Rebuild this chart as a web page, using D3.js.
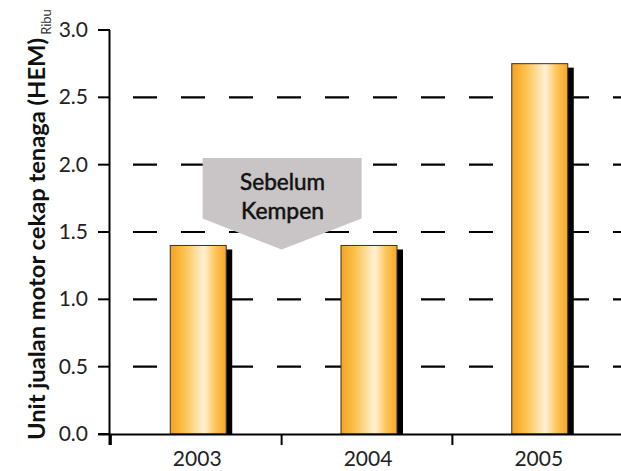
<!DOCTYPE html>
<html><head><meta charset="utf-8">
<script src="https://cdn.jsdelivr.net/npm/d3@7"></script>
<style>body{margin:0;background:#fff}svg{display:block}</style>
</head><body><svg id="c" width="621" height="471"></svg>
<script>
const categories = ["2003", "2004", "2005"];
const values = [1.4, 1.4, 2.75];
const yTicks = [0, 0.5, 1.0, 1.5, 2.0, 2.5, 3.0];
const gridTicks = [0.5, 1.0, 1.5, 2.0, 2.5];
const yTitle = "Unit jualan motor cekap tenaga (HEM)";
const unitLabel = "Ribu";
const calloutLines = ["Sebelum", "Kempen"];

const svg = d3.select("#c");
const W = 621, H = 471;
const x = d3.scaleBand().domain(categories).range([110, 624]).paddingInner(0.67).paddingOuter(0.34);
const y = d3.scaleLinear().domain([0, 3]).range([434, 30]);

const defs = svg.append("defs");
const g = defs.append("linearGradient").attr("id","bg").attr("x1","0").attr("x2","1").attr("y1","0").attr("y2","0");
[["0%","#f7a21f"],["25%","#fbc24e"],["60%","#fff1d6"],["80%","#fcc65a"],["100%","#f8a626"]].forEach(s=>g.append("stop").attr("offset",s[0]).attr("stop-color",s[1]));

// gridlines
svg.append("g").selectAll("line").data(gridTicks).join("line")
  .attr("x1",109).attr("x2",W).attr("y1",d=>y(d)).attr("y2",d=>y(d))
  .attr("stroke","#000").attr("stroke-width",2.2).attr("stroke-dasharray","24,24").attr("stroke-dashoffset",24);

// callout arrow
const cx = x("2003") + x.bandwidth()/2 + (x.step())/2;
const cTop = y(2.05), cMid = y(1.6), cTip = y(1.37);
svg.append("path")
  .attr("d", `M${cx-79},${cTop}L${cx+80},${cTop}L${cx+80},${cMid}L${cx},${cTip}L${cx-79},${cMid}Z`)
  .attr("fill","#c9c4c6");
svg.append("g").selectAll("text").data(calloutLines).join("text")
  .attr("x",cx+1).attr("y",(d,i)=>190+i*29).attr("text-anchor","middle")
  .attr("font-family","Lato, 'Open Sans', sans-serif").attr("font-weight","normal")
  .attr("font-size",23).attr("fill","#111").attr("stroke","#111").attr("stroke-width",0.5)
  .attr("textLength",(d,i)=>i===0?85:83).attr("lengthAdjust","spacingAndGlyphs")
  .text(d=>d);

// bars
const bw = 56;
const bx = d => x(d)+x.bandwidth()/2-bw/2+2;
const bars = svg.append("g").selectAll("g").data(categories).join("g");
bars.append("rect")
  .attr("x",(d,i)=>bx(d)+6).attr("y",(d,i)=>y(values[i])+4)
  .attr("width",bw).attr("height",(d,i)=>y(0)-y(values[i])-4).attr("fill","#000");
bars.append("rect")
  .attr("x",(d,i)=>bx(d)).attr("y",(d,i)=>y(values[i]))
  .attr("width",bw).attr("height",(d,i)=>y(0)-y(values[i]))
  .attr("fill","url(#bg)").attr("stroke","#333").attr("stroke-width",1);

// axes
svg.append("line").attr("x1",109.5).attr("x2",109.5).attr("y1",30).attr("y2",445).attr("stroke","#000").attr("stroke-width",2);
svg.append("line").attr("x1",98).attr("x2",W).attr("y1",434.5).attr("y2",434.5).attr("stroke","#000").attr("stroke-width",2);
svg.append("g").selectAll("line").data(yTicks).join("line")
  .attr("x1",98).attr("x2",110).attr("y1",d=>y(d)).attr("y2",d=>y(d)).attr("stroke","#000").attr("stroke-width",2);
const sepTicks = categories.map(c=>x(c)-x.step()*x.paddingInner()/2).concat([x("2005")+x.bandwidth()+x.step()*x.paddingInner()/2]);
svg.append("g").selectAll("line").data(sepTicks).join("line")
  .attr("x1",d=>d).attr("x2",d=>d).attr("y1",434).attr("y2",445).attr("stroke","#000").attr("stroke-width",2);

svg.append("g").selectAll("text").data(yTicks).join("text")
  .attr("x",88).attr("y",d=>y(d)+7).attr("text-anchor","end")
  .attr("font-family","Lato, sans-serif").attr("font-size",21).attr("fill","#222")
  .text(d=>d.toFixed(1));
svg.append("g").selectAll("text").data(categories).join("text")
  .attr("x",d=>x(d)+x.bandwidth()/2+1).attr("y",466).attr("text-anchor","middle")
  .attr("font-family","Lato, sans-serif").attr("font-size",21).attr("fill","#222")
  .text(d=>d);

svg.append("text").attr("transform","translate(45,239) rotate(-90)").attr("text-anchor","middle")
  .attr("font-family","Lato, sans-serif").attr("font-weight","bold").attr("font-size",22.5).attr("fill","#111")
  .attr("textLength",402).attr("lengthAdjust","spacingAndGlyphs")
  .text(yTitle);
svg.append("text").attr("transform","translate(51,22) rotate(-90)").attr("text-anchor","middle")
  .attr("font-family","Lato, sans-serif").attr("font-size",13).attr("fill","#333")
  .text(unitLabel);
</script></body></html>
